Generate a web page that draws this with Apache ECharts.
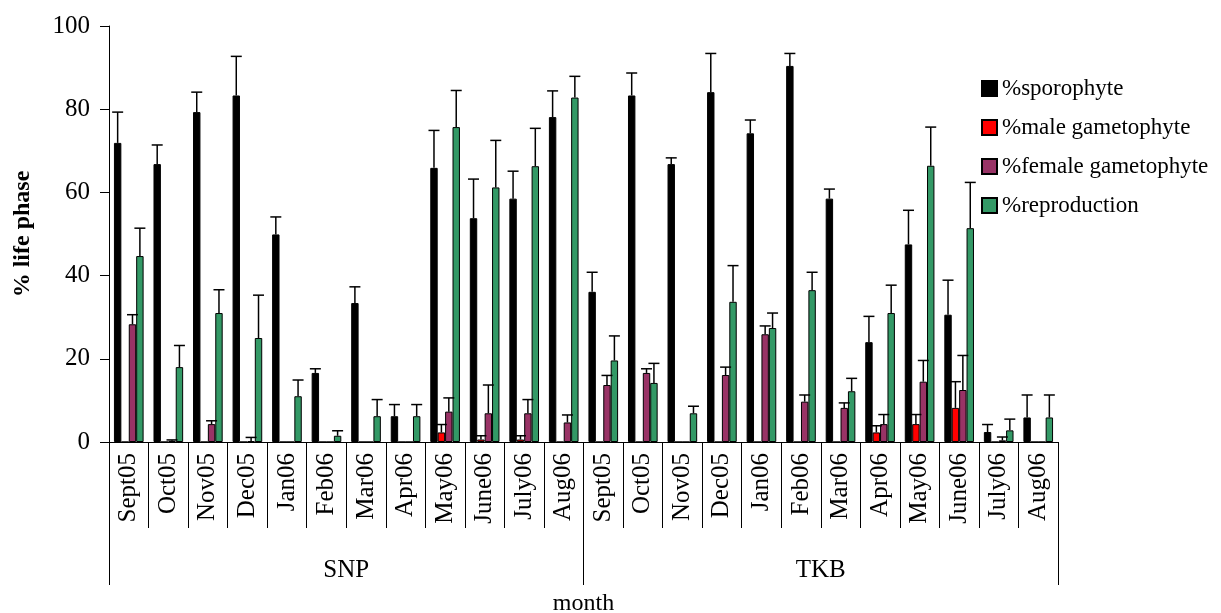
<!DOCTYPE html>
<html>
<head>
<meta charset="utf-8">
<script src="https://cdn.jsdelivr.net/npm/echarts@6/dist/echarts.min.js"></script>
<style>
  html, body { margin: 0; padding: 0; background: #fff; }
  #chart { width: 1221px; height: 613px; }
</style>
</head>
<body>
<div id="chart"></div>
<script>
var months = ['Sept05', 'Oct05', 'Nov05', 'Dec05', 'Jan06', 'Feb06', 'Mar06', 'Apr06', 'May06', 'June06', 'July06', 'Aug06'];
var sites = ['SNP', 'TKB'];
var categories = months.concat(months);

// means and upper error (SD) per category, SNP first then TKB
var sporophyte = [71.9, 66.8, 79.3, 83.3, 49.9, 16.6, 33.4, 6.2, 65.9, 53.8, 58.5, 78.1,
                  36.1, 83.3, 66.8, 84.1, 74.2, 90.4, 58.5, 24.0, 47.5, 30.6, 2.4, 5.9];
var sporophyteSd = [7.4, 4.6, 4.8, 9.4, 4.2, 1.0, 3.9, 2.8, 9.0, 9.4, 6.6, 6.3,
                    4.7, 5.4, 1.5, 9.3, 3.2, 3.0, 2.3, 6.2, 8.2, 8.3, 1.8, 5.4];
var male = [0, 0, 0, 0, 0, 0, 0, 0, 2.3, 0.6, 0.6, 0,
            0, 0, 0, 0, 0, 0, 0, 2.3, 4.3, 8.2, 0, 0];
var maleSd = [null, null, null, null, null, null, null, null, 1.9, 0.9, 0.9, null,
              null, null, null, null, null, null, null, 1.6, 2.3, 6.3, null, null];
var female = [28.3, 0.3, 4.3, 0.2, 0, 0, 0, 0, 7.3, 6.9, 6.9, 4.7,
              13.7, 16.6, 0, 16.1, 25.9, 9.7, 8.2, 4.3, 14.5, 12.5, 0.4, 0];
var femaleSd = [2.3, 0.2, 0.8, 0.9, null, null, null, null, 3.3, 6.8, 3.3, 1.8,
                2.3, 1.0, null, 1.9, 2.0, 1.6, 1.2, 2.3, 5.1, 8.3, 0.8, null];
var reproduction = [44.7, 18.0, 31.0, 25.0, 11.0, 1.5, 6.2, 6.2, 75.7, 61.2, 66.3, 82.8,
                    19.6, 14.2, 6.9, 33.7, 27.4, 36.5, 12.2, 31.0, 66.4, 51.4, 2.8, 5.9];
var reproductionSd = [6.7, 5.2, 5.6, 10.3, 3.9, 1.2, 4.0, 2.8, 8.8, 11.3, 9.1, 5.1,
                      5.9, 4.7, 1.7, 8.7, 3.6, 4.3, 3.1, 6.7, 9.3, 11.0, 2.7, 5.4];
var yTicks = [0, 20, 40, 60, 80, 100];

var seriesDefs = [
  { name: '%sporophyte', color: '#000000', data: sporophyte, sd: sporophyteSd },
  { name: '%male gametophyte', color: '#ff0000', data: male, sd: maleSd },
  { name: '%female gametophyte', color: '#993366', data: female, sd: femaleSd },
  { name: '%reproduction', color: '#339966', data: reproduction, sd: reproductionSd }
];

var FONT = '"Liberation Serif", "DejaVu Serif", serif';
var GAP = 0.25;

function errorRenderer(slot) {
  return function(params, api) {
    var i = api.value(0);
    var top = api.coord([i, api.value(1)]);
    var base = api.coord([i, api.value(2)]);
    var band = api.size([1, 0])[0];
    var barW = band * (1 - GAP) / seriesDefs.length;
    var x = top[0] + (slot - (seriesDefs.length - 1) / 2) * barW;
    var half = 5.5;
    var st = { stroke: '#000', lineWidth: 1.5 };
    return {
      type: 'group',
      children: [
        { type: 'line', shape: { x1: x, y1: base[1], x2: x, y2: top[1] }, style: st },
        { type: 'line', shape: { x1: x - half, y1: top[1], x2: x + half, y2: top[1] }, style: st }
      ]
    };
  };
}

var series = [];
seriesDefs.forEach(function(s) {
  series.push({
    name: s.name,
    type: 'bar',
    data: s.data,
    barGap: '0%',
    barCategoryGap: (GAP * 100) + '%',
    itemStyle: { color: s.color, borderColor: '#000', borderWidth: 1 }
  });
});
seriesDefs.forEach(function(s, k) {
  var pts = [];
  s.data.forEach(function(v, i) {
    if (s.sd[i] != null) pts.push([i, v + s.sd[i], v]);
  });
  series.push({
    name: s.name + ' err',
    type: 'custom',
    renderItem: errorRenderer(k),
    data: pts,
    z: 5,
    silent: true
  });
});

var chart = echarts.init(document.getElementById('chart'));
chart.setOption({
  animation: false,
  textStyle: { fontFamily: FONT, color: '#000' },
  grid: { left: 109, right: 163, top: 26, bottom: 171, outerBoundsMode: 'none', containLabel: false },
  legend: {
    data: seriesDefs.map(function(s) { return s.name; }),
    orient: 'vertical',
    left: 976,
    top: 72,
    icon: 'rect',
    itemWidth: 15,
    itemHeight: 15,
    itemGap: 16,
    textStyle: { fontFamily: 'Liberation Serif', fontSize: 23, color: '#000' }
  },
  xAxis: [{
    type: 'category',
    data: categories,
    axisLine: { show: true, lineStyle: { color: '#000', width: 1 } },
    axisTick: { show: true, interval: 0, alignWithLabel: false, length: 86, lineStyle: { color: '#000' } },
    axisLabel: { rotate: 90, interval: 0, margin: 11, fontFamily: FONT, fontSize: 25, color: '#000' }
  }, {
    type: 'category',
    position: 'bottom',
    data: sites,
    axisLine: { show: false },
    axisTick: { show: true, interval: 0, alignWithLabel: false, length: 143, lineStyle: { color: '#000' } },
    axisLabel: { interval: 0, margin: 116, fontFamily: FONT, fontSize: 25, color: '#000' },
    name: 'month',
    nameLocation: 'middle',
    nameGap: 150,
    nameTextStyle: { fontFamily: FONT, fontSize: 24, color: '#000' }
  }],
  yAxis: {
    type: 'value',
    min: yTicks[0],
    max: yTicks[yTicks.length - 1],
    interval: 20,
    axisLine: { show: true, lineStyle: { color: '#000', width: 1 } },
    axisTick: { show: true, length: 9, lineStyle: { color: '#000' } },
    splitLine: { show: false },
    axisLabel: { margin: 19, fontFamily: FONT, fontSize: 25, color: '#000' },
    name: '% life phase',
    nameLocation: 'middle',
    nameGap: 74,
    nameTextStyle: { fontFamily: FONT, fontSize: 24, fontWeight: 'bold', color: '#000' }
  },
  series: series
});
</script>
</body>
</html>
